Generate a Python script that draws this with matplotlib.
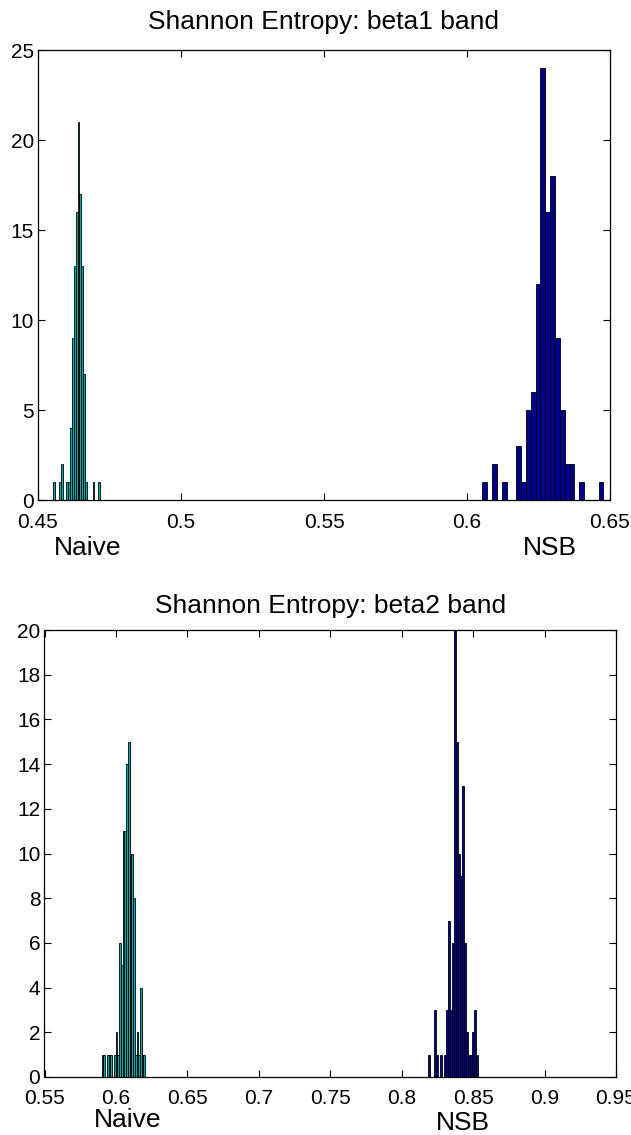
import numpy as np
import matplotlib
matplotlib.use("Agg")
import matplotlib.pyplot as plt

plt.rcParams['font.family'] = ['Liberation Sans', 'DejaVu Sans']

# beta1 band: 25-bin histograms (counts per bin, bin range)
beta1_naive_range = (0.45535, 0.47168)
beta1_naive_counts = [1, 0, 0, 1, 2, 0, 0, 1, 1, 4, 9, 13, 16, 21, 17, 13, 7, 1, 0, 0, 0, 1, 0, 0, 1]
beta1_nsb_range = (0.60535, 0.6477)
beta1_nsb_counts = [1, 0, 2, 0, 1, 0, 0, 3, 1, 5, 6, 12, 24, 16, 18, 9, 5, 2, 2, 0, 1, 0, 0, 0, 1]

# beta2 band
beta2_naive_range = (0.5900, 0.6205)
beta2_naive_counts = [1, 1, 0, 1, 1, 1, 0, 1, 2, 1, 6, 5, 11, 11, 14, 15, 10, 10, 8, 1, 2, 1, 4, 1, 1]
beta2_nsb_range = (0.8187, 0.8532)
beta2_nsb_counts = [1, 0, 0, 3, 1, 0, 1, 0, 1, 3, 7, 3, 6, 20, 15, 10, 9, 13, 6, 2, 1, 1, 2, 3, 1]

beta1_xticks = [0.45, 0.5, 0.55, 0.6, 0.65]
beta1_xlabels = ["0.45", "0.5", "0.55", "0.6", "0.65"]
beta1_yticks = [0, 5, 10, 15, 20, 25]
beta2_xticks = [0.55, 0.6, 0.65, 0.7, 0.75, 0.8, 0.85, 0.9, 0.95]
beta2_xlabels = ["0.55", "0.6", "0.65", "0.7", "0.75", "0.8", "0.85", "0.9", "0.95"]
beta2_yticks = [0, 2, 4, 6, 8, 10, 12, 14, 16, 18, 20]

NAIVE_COLOR = "#00adad"
NSB_COLOR = "#00008f"

W, H = 631, 1135
fig = plt.figure(figsize=(W / 100, H / 100), dpi=100)


def draw_hist(ax, rng, counts, color):
    edges = np.linspace(rng[0], rng[1], len(counts) + 1)
    ax.bar(edges[:-1], counts, width=np.diff(edges), align="edge",
           color=color, edgecolor="black", linewidth=0.6)


def style_axes(ax, xlim, ylim, xticks, xlabels, yticks, title, tpad):
    ax.set_xlim(*xlim)
    ax.set_ylim(*ylim)
    ax.set_xticks(xticks)
    ax.set_xticklabels(xlabels)
    ax.set_yticks(yticks)
    ax.tick_params(direction="in", top=True, right=True, length=5,
                   width=0.8, labelsize=15)
    ax.tick_params(axis="x", pad=9)
    ax.tick_params(axis="y", pad=3)
    for s in ax.spines.values():
        s.set_linewidth(0.9)
    ax.set_title(title, fontsize=19, pad=tpad)


# top panel
ax1 = fig.add_axes([38 / W, 1 - 500 / H, 572 / W, 450 / H])
draw_hist(ax1, beta1_naive_range, beta1_naive_counts, NAIVE_COLOR)
draw_hist(ax1, beta1_nsb_range, beta1_nsb_counts, NSB_COLOR)
style_axes(ax1, (0.45, 0.65), (0, 25), beta1_xticks, beta1_xlabels,
           beta1_yticks, "Shannon Entropy: beta1 band", 15)

# bottom panel
ax2 = fig.add_axes([44.5 / W, 1 - 1077 / H, 571.5 / W, 447 / H])
draw_hist(ax2, beta2_naive_range, beta2_naive_counts, NAIVE_COLOR)
draw_hist(ax2, beta2_nsb_range, beta2_nsb_counts, NSB_COLOR)
style_axes(ax2, (0.55, 0.95), (0, 20), beta2_xticks, beta2_xlabels,
           beta2_yticks, "Shannon Entropy: beta2 band", 12)

# method labels under the axes
fig.text(88 / W, 1 - 548 / H, "Naive", fontsize=19, ha="center", va="center")
fig.text(550 / W, 1 - 548 / H, "NSB", fontsize=19, ha="center", va="center")
fig.text(128 / W, 1 - 1120 / H, "Naive", fontsize=19, ha="center", va="center")
fig.text(463 / W, 1 - 1123 / H, "NSB", fontsize=19, ha="center", va="center")

fig.savefig("out.png", dpi=100)
